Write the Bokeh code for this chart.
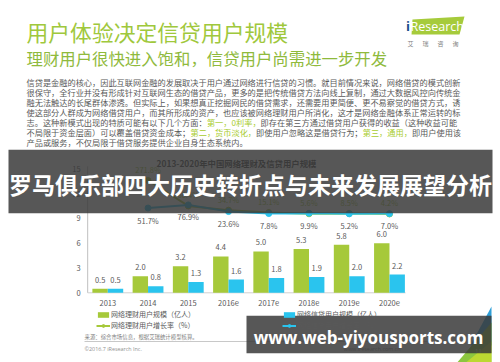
import numpy as np
from bokeh.plotting import figure
from bokeh.models import Range1d, Legend, LegendItem
from bokeh.core.properties import value
from bokeh.embed import file_html
from bokeh.resources import INLINE

# ---------------- data ----------------
years = ["2013", "2014", "2015", "2016e", "2017e", "2018e", "2019e", "2020e"]
wealth_users = [0.5, 2.0, 3.2, 4.4, 5.0, 5.3, 5.8, 6.0]      # 网络理财用户规模（亿人）
credit_users = [0.5, 0.8, 1.3, 1.6, 1.8, 1.9, 2.0, 2.2]      # 网络信贷用户规模（亿人）
growth_years = years[1:]
wealth_growth = [271.8, 68.4, 34.7, 15.1, 5.6, 8.5, 4.2]     # 网络理财用户增长率（%）
credit_growth = [51.7, 76.9, 23.6, 7.8, 9.9, 5.2, 7.0]       # 网络信贷用户增长率（%）
y_ticks = [0, 3, 6, 9, 12, 15]

series_names = ["网络理财用户规模（亿人）", "网络理财用户增长率（%）",
                "网络信贷用户规模（亿人）", "网络信贷用户增长率（%）"]
chart_title = "2013-2020年中国网络理财及信贷用户规模"
slide_title = "用户体验决定信贷用户规模"
slide_subtitle = "理财用户很快进入饱和，信贷用户尚需进一步开发"
paragraph = [
    [("信贷是金融的核心，因此互联网金融的发展取决于用户通过网络进行信贷的习惯。就目前情况来说，网络借贷的模式创新", False)],
    [("很保守，全行业并没有形成针对互联网生态的借贷产品，更多的是把传统借贷方法向线上复制，通过大数据风控向传统金", False)],
    [("融无法触达的长尾群体渗透。但实际上，如果想真正挖掘网民的借贷需求，还需要用更简便、更不易察觉的借贷方式，诱", False)],
    [("使这部分人群成为网络借贷用户，而其所形成的资产，也应该被网络理财用户所消化，这才是网络金融体系正常运转的标", False)],
    [("志。这种新模式出现的特质可能有以下几个方面：", False), ("第一，0利率，", True),
     ("即存在第三方通过借贷用户获得的收益（这种收益可能", False)],
    [("不局限于资金层面）可以覆盖借贷资金成本；", False), ("第二，货币淡化，", True),
     ("即使用户忽略这是借贷行为；", False), ("第三，通用，", True), ("即用户使用该", False)],
    [("产品或服务，不仅局限于借贷服务提供企业自身生态系统内。", False)],
]
source_text = "来源：综合市场信息，根据艾瑞统计模型核算。"
copyright_text = "©2016.7 iResearch Inc."
site_text = "www.iresearch.com.cn"
banner_text = "罗马俱乐部四大历史转折点与未来发展展望分析"
watermark_text = "www.web-yiyousports.com"
page_no = "11"

# ---------------- styles ----------------
W, H = 500, 362
CJK = value("Noto Sans CJK SC")
GREEN = "#A6C93A"
BLUE = "#2AC4EE"
TXT = "#595959"
LIME_T = "#A0C83C"
LIME_S = "#8FBA3C"
HL = "#A8CC2E"

# chart placement (page pixels)
cat_w = 40.24          # px per category
cat0_x = 107.3         # px centre of first category
base_y = 292.3         # px of value 0
px_per_unit = 8.267    # px per 1 (亿人)
pct0_y = 214.0         # px of 0 %
px_per_pct = 0.125

p = figure(width=W, height=H, x_range=Range1d(0, W), y_range=Range1d(H, 0),
           output_backend="svg", toolbar_location=None, min_border=0,
           x_axis_location=None, y_axis_location=None,
           outline_line_color=None, background_fill_color="white",
           border_fill_color="white")
p.xgrid.visible = False
p.ygrid.visible = False
p.extra_x_ranges = {"cat": Range1d(-cat0_x / cat_w, (W - cat0_x) / cat_w)}
p.extra_y_ranges = {
    "val": Range1d(-(H - base_y) / px_per_unit, base_y / px_per_unit),
    "pct": Range1d(-(H - pct0_y) / px_per_pct, pct0_y / px_per_pct),
}

# ---------------- slide header ----------------
p.text(x=[26], y=[31.3], text=[slide_title], text_font=CJK, text_font_size="21.8px",
       text_color=LIME_T, text_baseline="middle")
p.text(x=[26], y=[57.3], text=[slide_subtitle], text_font=CJK, text_font_size="16.4px",
       text_color=LIME_S, text_baseline="middle")

# logo
p.patch(x=[412, 464, 459, 411], y=[19, 16, 34, 34], fill_color="#A6CB3B", line_color=None)
p.text(x=[405.5], y=[25.5], text=["i"], text_font=value("Open Sans"), text_font_size="13px",
       text_color="#1B4F8A", text_font_style="bold", text_baseline="middle")
p.text(x=[410], y=[25.5], text=["Research"], text_font=value("Open Sans"), text_font_size="12.5px",
       text_color="white", text_baseline="middle")
p.text(x=[407, 422, 437, 452], y=[43, 43, 43, 43], text=["艾", "瑞", "咨", "询"], text_font=CJK,
       text_font_size="6px", text_color="#808080", text_baseline="middle")

# paragraph
fs_par = 8.2
for i, segs in enumerate(paragraph):
    cx = 26.0
    for seg, hl in segs:
        p.text(x=[cx], y=[81 + 10 * i], text=[seg], text_font=CJK, text_font_size=f"{fs_par}px",
               text_color=HL if hl else TXT, text_baseline="middle")
        cx += sum(0.55 if ord(c) < 128 else 1.0 for c in seg) * fs_par

# ---------------- chart ----------------
idx = np.arange(len(years))
gidx = np.arange(1, len(years))
bw = 0.383
off = bw / 2

p.text(x=[236], y=[162], text=[chart_title], text_font=CJK, text_font_size="8.4px",
       text_font_style="bold", text_color="#404040", text_align="center", text_baseline="middle")

# axis lines
p.segment(x0=[-0.5], y0=[0], x1=[-0.5], y1=[y_ticks[-1] + 0.3], x_range_name="cat",
          y_range_name="val", line_color="#BFBFBF", line_width=1)
p.segment(x0=[-0.5], y0=[0], x1=[len(years) - 0.6], y1=[0], x_range_name="cat",
          y_range_name="val", line_color="#D0D0D0", line_width=1)
p.text(x=[-0.5] * len(y_ticks), y=y_ticks, text=[str(t) for t in y_ticks], x_offset=-7,
       x_range_name="cat", y_range_name="val", text_font=CJK, text_font_size="7.5px",
       text_color=TXT, text_align="right", text_baseline="middle")
p.text(x=idx, y=[0] * len(years), text=years, y_offset=10, x_range_name="cat", y_range_name="val",
       text_font=CJK, text_font_size="7.5px", text_color=TXT, text_align="center",
       text_baseline="middle")

g_bar = p.vbar(x=idx - off, top=wealth_users, bottom=0, width=bw, x_range_name="cat",
               y_range_name="val", fill_color=GREEN, line_color=None)
b_bar = p.vbar(x=idx + off, top=credit_users, bottom=0, width=bw, x_range_name="cat",
               y_range_name="val", fill_color=BLUE, line_color=None)
p.text(x=idx - off, y=wealth_users, text=[f"{v:.1f}" for v in wealth_users], y_offset=-9,
       x_range_name="cat", y_range_name="val", text_font=CJK, text_font_size="7.5px",
       text_color=TXT, text_align="center", text_baseline="middle")
p.text(x=idx + off, y=credit_users, text=[f"{v:.1f}" for v in credit_users], y_offset=-9,
       x_range_name="cat", y_range_name="val", text_font=CJK, text_font_size="7.5px",
       text_color=TXT, text_align="center", text_baseline="middle")

g_line = p.line(x=gidx, y=wealth_growth, x_range_name="cat", y_range_name="pct",
                line_color=GREEN, line_width=2)
g_pts = p.scatter(x=gidx, y=wealth_growth, x_range_name="cat", y_range_name="pct",
                  marker="circle", size=6, fill_color=GREEN, line_color=GREEN)
b_line = p.line(x=gidx, y=credit_growth, x_range_name="cat", y_range_name="pct",
                line_color=BLUE, line_width=2)
b_pts = p.scatter(x=gidx, y=credit_growth, x_range_name="cat", y_range_name="pct",
                  marker="circle", size=6, fill_color=BLUE, line_color=BLUE)
p.text(x=gidx, y=wealth_growth, text=[f"{v:.1f}%" for v in wealth_growth], y_offset=-11,
       x_range_name="cat", y_range_name="pct", text_font=CJK, text_font_size="7.5px",
       text_color="#9CBF35", text_align="center", text_baseline="middle")
p.text(x=gidx, y=credit_growth, text=[f"{v:.1f}%" for v in credit_growth], y_offset=12,
       x_range_name="cat", y_range_name="pct", text_font=CJK, text_font_size="7.5px",
       text_color=TXT, text_align="center", text_baseline="middle")

# legends
leg_style = dict(orientation="vertical", padding=0, margin=0, spacing=1, glyph_width=14,
                 glyph_height=7, label_standoff=1, label_height=9, border_line_color=None,
                 background_fill_alpha=0, label_text_font="Noto Sans CJK SC",
                 label_text_font_size="7px", label_text_color=TXT, level="underlay")
leg1 = Legend(items=[LegendItem(label=series_names[0], renderers=[g_bar]),
                     LegendItem(label=series_names[1], renderers=[g_line, g_pts])],
              location=(96, 32), **leg_style)
leg2 = Legend(items=[LegendItem(label=series_names[2], renderers=[b_bar]),
                     LegendItem(label=series_names[3], renderers=[b_line, b_pts])],
              location=(282, 32), **leg_style)
p.add_layout(leg1)
p.add_layout(leg2)

# ---------------- footer ----------------
p.text(x=[84], y=[336.5], text=[source_text], text_font=CJK, text_font_size="5.4px",
       text_color="#808080", text_baseline="middle")
p.segment(x0=[84], y0=[341], x1=[428], y1=[341], line_color="#C8C8C8", line_width=1)
p.text(x=[84], y=[348], text=[copyright_text], text_font=value("Open Sans"), text_font_size="5.4px",
       text_color="#909090", text_baseline="middle")
p.text(x=[400], y=[348], text=[site_text], text_font=value("Open Sans"), text_font_size="5.4px",
       text_color="#909090", text_align="right", text_baseline="middle")

# corner decoration
p.patch(x=[491, 491, 470], y=[306, 345, 345], fill_color="#2F9FD8", line_color=None)
p.patch(x=[491, 491, 455], y=[322, 364, 364], fill_color="#8CC63F", line_color=None)
p.patch(x=[491, 491, 463], y=[341, 364, 364], fill_color="#C8DC2E", line_color=None, fill_alpha=0.8)
p.text(x=[478], y=[350], text=[page_no], text_font=value("Open Sans"), text_font_size="6px",
       text_color="#E8F0C8", text_align="center", text_baseline="middle")

# ---------------- overlay banners ----------------
p.quad(left=[8], right=[492], top=[149.3], bottom=[212.7], fill_color="#3A3A3A", fill_alpha=0.85,
       line_color=None)
p.text(x=[250], y=[183], text=[banner_text], text_font=CJK, text_font_size="23px",
       text_font_style="bold", text_color="white", text_align="center", text_baseline="middle")
p.quad(left=[246], right=[491], top=[315.3], bottom=[352.7], fill_color="#3A3A3A", fill_alpha=0.85,
       line_color=None)
p.text(x=[368], y=[336.7], text=[watermark_text], text_font=value("Open Sans"),
       text_font_size="17px", text_font_style="bold", text_color="white", text_align="center",
       text_baseline="middle")

open("out.html", "w").write(file_html(p, INLINE))
